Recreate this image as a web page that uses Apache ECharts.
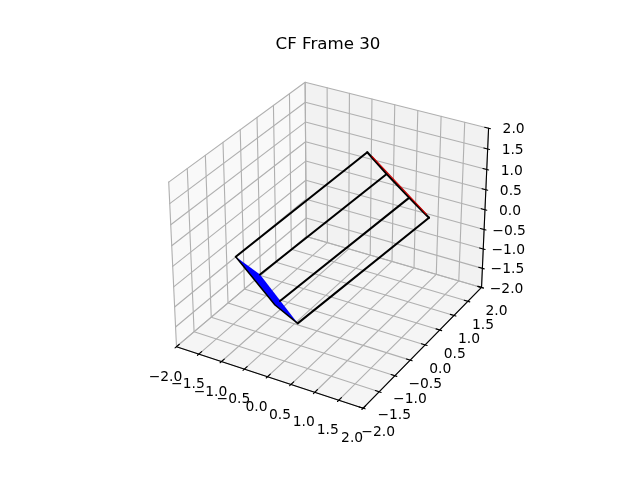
<!DOCTYPE html>
<html><head><meta charset="utf-8"><style>html,body{margin:0;background:#fff}#c{width:640px;height:480px}</style>
<script src="https://cdn.jsdelivr.net/npm/echarts@6/dist/echarts.min.js"></script></head><body><div id="c"></div>
<script>
// 3D values
const nearA=[-0.698,-1.9,0.605], nearP=[-0.192,-1.9,0.355], nearR=[0.219,-1.9,-0.135], nearD=[0.583,-1.9,-0.542], nearQ=[0.112,-1.9,-0.269];
const farA=[-0.460,1.8,0.809], farP=[-0.024,1.8,0.395], farR=[0.483,1.8,-0.047], farD=[0.923,1.8,-0.416];
const redStart=[-0.353,1.8,0.738], redEnd=[0.864,1.8,-0.341];
const tickValues=[-2,-1.5,-1,-.5,0,.5,1,1.5,2];
const tickLabels=['\u22122.0','\u22121.5','\u22121.0','\u22120.5','0.0','0.5','1.0','1.5','2.0'];

const box=[1.084,1.29,0.948],s=1970.505,ox=332.727,oy=237.343;
const el=30*Math.PI/180,az=-60*Math.PI/180,dist=10;
const w=[Math.cos(el)*Math.cos(az),Math.cos(el)*Math.sin(az),Math.sin(el)];
const R=box.map(b=>b/2),eye=R.map((r,i)=>r+dist*w[i]);
const cross=(a,b)=>[a[1]*b[2]-a[2]*b[1],a[2]*b[0]-a[0]*b[2],a[0]*b[1]-a[1]*b[0]];
const dot=(a,b)=>a[0]*b[0]+a[1]*b[1]+a[2]*b[2];
let u=cross([0,0,1],w);const ul=Math.sqrt(dot(u,u));u=u.map(x=>x/ul);const v=cross(w,u);
function proj(p){const q=p.map((c,i)=>(c+2)/4*box[i]-eye[i]);const zv=dot(w,q);return [ox+s*dot(u,q)/-zv,oy-s*dot(v,q)/-zv];}
const T=tickValues;
const grid=[];T.forEach(t=>{grid.push([[t,-2,-2],[t,2,-2],[t,2,2]]);grid.push([[-2,t,2],[-2,t,-2],[2,t,-2]]);grid.push([[-2,-2,t],[-2,2,t],[2,2,t]]);});
const axes=[[[-2,-2,-2],[2,-2,-2]],[[2,-2,-2],[2,2,-2]],[[2,2,-2],[2,2,2]]];
const TI=.08,TO=.04;
const ticks=[];T.forEach(t=>{ticks.push([[t,-2-TO,-2],[t,-2+TI,-2]]);ticks.push([[2+TO,t,-2],[2-TI,t,-2]]);ticks.push([[2+TO,2,t],[2-TI,2,t]]);});
const panes=[{c:'#f9f9f9',p:[[-2,-2,-2],[-2,2,-2],[-2,2,2],[-2,-2,2]]},{c:'#f2f2f2',p:[[-2,2,-2],[2,2,-2],[2,2,2],[-2,2,2]]},{c:'#f5f5f5',p:[[-2,-2,-2],[2,-2,-2],[2,2,-2],[-2,2,-2]]}];
const line=(pts,c,wd,z)=>({type:'line',symbol:'none',silent:true,z,data:pts.map(proj),lineStyle:{color:c,width:wd,cap:'round',join:'round'}});
const poly=(pts,c,z)=>({type:'custom',silent:true,z,clip:false,coordinateSystem:'cartesian2d',data:[0],renderItem:(pa,api)=>({type:'polygon',shape:{points:pts.map(p=>api.coord(proj(p)))},style:{fill:c}})});
const labels=(mk,dx,dy)=>({type:'custom',silent:true,z:9,coordinateSystem:'cartesian2d',data:T.map((t,i)=>[...proj(mk(t)),i]),encode:{x:0,y:1},clip:false,
 renderItem:(pa,api)=>{const c=api.coord([api.value(0),api.value(1)]);return {type:'text',x:c[0]+dx,y:c[1]+dy,style:{text:tickLabels[api.value(2)],fontFamily:'DejaVu Sans',fontSize:13.89,fill:'#000',align:'center',verticalAlign:'middle'}};}});
const ch=echarts.init(document.getElementById('c'));
ch.setOption({animation:false,title:{text:'CF Frame 30',left:323,top:31,textAlign:'center',textStyle:{fontFamily:'DejaVu Sans',fontSize:16.67,fontWeight:'normal',color:'#000'}},
grid:{left:0,right:0,top:0,bottom:0},xAxis:{type:'value',min:0,max:640,show:false},yAxis:{type:'value',min:0,max:480,inverse:true,show:false},
series:[...panes.map(p=>poly(p.p,p.c,1)),...grid.map(g=>line(g,'#b0b0b0',1.11,2)),...axes.map(a=>line(a,'#000',1.11,3)),...ticks.map(a=>line(a,'#000',1.11,3)),
 labels(t=>[t,-2,-2],-11,30.5),labels(t=>[2,t,-2],15,24),labels(t=>[2,2,t],25,1.5),
 poly([nearA,nearP,nearD,nearQ],'#0000ff',4),
 ...[[nearA,farA],[nearP,farP],[nearR,farR],[nearD,farD]].map(a=>line(a,'#000',2.08,5)),
 line([nearA,nearQ,nearD],'#000',1.5,5),line([farA,farP,farR,farD],'#000',2.08,5),
 line([redStart,redEnd],'#d00000',1.1,6)]});
</script></body></html>
